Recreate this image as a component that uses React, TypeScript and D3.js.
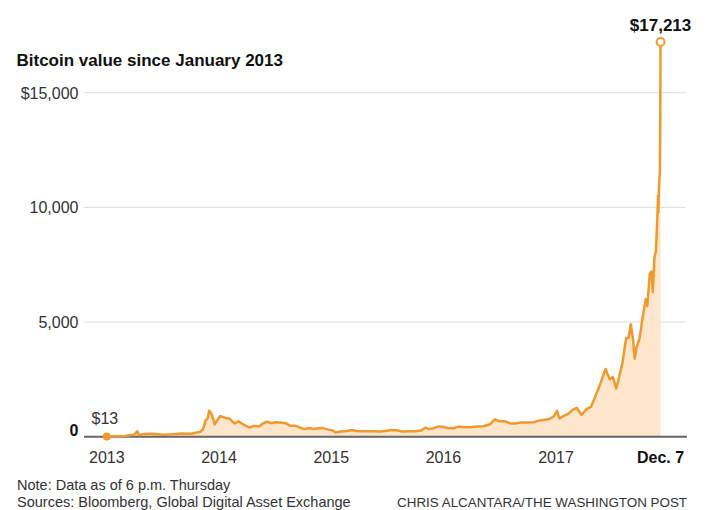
import React from "react";
import * as d3 from "d3";

const dates: string[] = [
  "2013-01-01","2013-02-01","2013-03-01","2013-04-01","2013-04-10","2013-04-16","2013-05-01","2013-06-01","2013-07-01","2013-08-01",
  "2013-09-01","2013-10-01","2013-10-20","2013-11-01","2013-11-10","2013-11-18","2013-11-25","2013-11-30","2013-12-05","2013-12-10",
  "2013-12-18","2013-12-25","2014-01-05","2014-01-20","2014-02-05","2014-02-20","2014-03-05","2014-03-25","2014-04-10","2014-04-25",
  "2014-05-10","2014-05-25","2014-06-05","2014-06-20","2014-07-05","2014-07-20","2014-08-05","2014-08-20","2014-09-05","2014-09-20",
  "2014-10-05","2014-10-20","2014-11-05","2014-11-20","2014-12-05","2014-12-20","2015-01-05","2015-01-15","2015-02-01","2015-02-20",
  "2015-03-10","2015-03-25","2015-04-10","2015-05-01","2015-05-20","2015-06-10","2015-07-01","2015-07-15","2015-08-01","2015-08-20",
  "2015-09-10","2015-10-01","2015-10-20","2015-11-04","2015-11-15","2015-12-01","2015-12-15","2016-01-01","2016-01-15","2016-02-01",
  "2016-02-20","2016-03-10","2016-04-01","2016-04-20","2016-05-10","2016-05-30","2016-06-17","2016-07-01","2016-07-20","2016-08-05",
  "2016-08-20","2016-09-10","2016-10-01","2016-10-20","2016-11-05","2016-11-20","2016-12-10","2016-12-25","2017-01-04","2017-01-12",
  "2017-01-25","2017-02-10","2017-02-25","2017-03-10","2017-03-25","2017-04-10","2017-04-25","2017-05-10","2017-05-25","2017-06-11",
  "2017-06-25","2017-07-05","2017-07-16","2017-07-25","2017-08-05","2017-08-17","2017-08-25","2017-09-01","2017-09-08","2017-09-14",
  "2017-09-20","2017-09-30","2017-10-12","2017-10-20","2017-10-25","2017-11-02","2017-11-07","2017-11-12","2017-11-17","2017-11-22",
  "2017-11-27","2017-11-29","2017-11-30","2017-12-02","2017-12-05","2017-12-06","2017-12-07",
];

const prices: number[] = [
  13, 20, 34, 100, 230, 70, 115, 125, 90, 105,
  135, 125, 180, 210, 330, 700, 800, 1130, 1050, 900,
  540, 700, 900, 830, 780, 580, 670, 500, 400, 470,
  440, 580, 650, 590, 630, 620, 590, 480, 480, 410,
  330, 380, 340, 370, 375, 320, 275, 180, 230, 245,
  290, 250, 235, 235, 240, 230, 260, 290, 280, 230,
  235, 240, 270, 400, 330, 370, 450, 430, 380, 370,
  440, 415, 420, 440, 455, 530, 760, 670, 670, 580,
  580, 620, 615, 630, 700, 730, 770, 890, 1130, 800,
  900, 1000, 1180, 1250, 950, 1200, 1300, 1800, 2300, 2950,
  2500, 2600, 2100, 2600, 3200, 4300, 4300, 4900, 4300, 3400,
  3900, 4300, 5400, 6000, 5700, 7100, 7200, 6300, 7800, 8100,
  9700, 10500, 9800, 10900, 11600, 13500, 17213,
];

const yTicks: number[] = [0, 5000, 10000, 15000];
const yTickLabels: string[] = ["0", "5,000", "10,000", "$15,000"];
const xTickYears: number[] = [2013, 2014, 2015, 2016, 2017];
const xTickLabels: string[] = ["2013", "2014", "2015", "2016", "2017"];
const endLabel = "Dec. 7";
const startLabel = "$13";
const peakLabel = "$17,213";
const title = "Bitcoin value since January 2013";
const note = "Note: Data as of 6 p.m. Thursday";
const sources = "Sources: Bloomberg, Global Digital Asset Exchange";
const credit = "CHRIS ALCANTARA/THE WASHINGTON POST";

const ORANGE = "#f19a2c";
const FILL = "#fde6cc";
const FONT = "'Liberation Sans', Arial, sans-serif";

export default function App() {
  const W = 708;
  const H = 510;
  const parse = d3.timeParse("%Y-%m-%d");
  const data = dates.map((d, i) => ({ date: parse(d) as Date, value: prices[i] }));

  const x = d3
    .scaleTime()
    .domain([new Date(2013, 0, 1), new Date(2017, 0, 1)])
    .range([106.8, 556]);
  const y = d3.scaleLinear().domain([0, 15000]).range([436.7, 92.7]);

  const area = d3
    .area<{ date: Date; value: number }>()
    .x((d) => x(d.date))
    .y0(y(0))
    .y1((d) => y(d.value));
  const line = d3
    .line<{ date: Date; value: number }>()
    .x((d) => x(d.date))
    .y((d) => y(d.value));

  const first = data[0];
  const last = data[data.length - 1];
  const gridX0 = 84;
  const gridX1 = 686;

  return (
    <svg
      width={W}
      height={H}
      style={{ position: "absolute", left: 0, top: 0, display: "block", background: "#fff" }}
      fontFamily={FONT}
    >
      <text x={16.5} y={66} fontSize={17} fontWeight="bold" fill="#111">
        {title}
      </text>

      {yTicks.map((t) =>
        t === 0 ? null : (
          <line key={"g" + t} x1={gridX0} x2={gridX1} y1={y(t)} y2={y(t)} stroke="#dedede" strokeWidth={1} />
        )
      )}
      {yTicks.map((t, i) => (
        <text
          key={"yl" + t}
          x={78.5}
          y={t === 0 ? y(t) - 1 : y(t) + 6}
          fontSize={16}
          fontWeight={t === 0 ? "bold" : "normal"}
          textAnchor="end"
          fill={t === 0 ? "#111" : "#333"}
        >
          {yTickLabels[i]}
        </text>
      ))}

      <path d={area(data) || ""} fill={FILL} />
      <line x1={gridX0} x2={gridX1 + 1} y1={y(0)} y2={y(0)} stroke="#666" strokeWidth={2} />
      <path d={line(data) || ""} fill="none" stroke={ORANGE} strokeWidth={2.5} strokeLinejoin="round" />

      <circle cx={x(first.date)} cy={y(first.value)} r={4} fill={ORANGE} />
      <text x={91.5} y={423.5} fontSize={16} fill="#333">
        {startLabel}
      </text>

      <circle cx={x(last.date)} cy={y(last.value)} r={4} fill="#fff" stroke={ORANGE} strokeWidth={2} />
      <text x={x(last.date)} y={30.5} fontSize={17} fontWeight="bold" textAnchor="middle" fill="#111">
        {peakLabel}
      </text>

      {xTickYears.map((yr, i) => (
        <text key={"xl" + yr} x={x(new Date(yr, 0, 1))} y={463} fontSize={16} textAnchor="middle" fill="#333">
          {xTickLabels[i]}
        </text>
      ))}
      <text x={x(last.date)} y={463} fontSize={16} fontWeight="bold" textAnchor="middle" fill="#111">
        {endLabel}
      </text>

      <text x={17} y={490} fontSize={14.5} fill="#333">
        {note}
      </text>
      <text x={17} y={506.5} fontSize={14.5} fill="#333">
        {sources}
      </text>
      <text x={687} y={506.5} fontSize={13.4} textAnchor="end" fill="#333">
        {credit}
      </text>
    </svg>
  );
}
